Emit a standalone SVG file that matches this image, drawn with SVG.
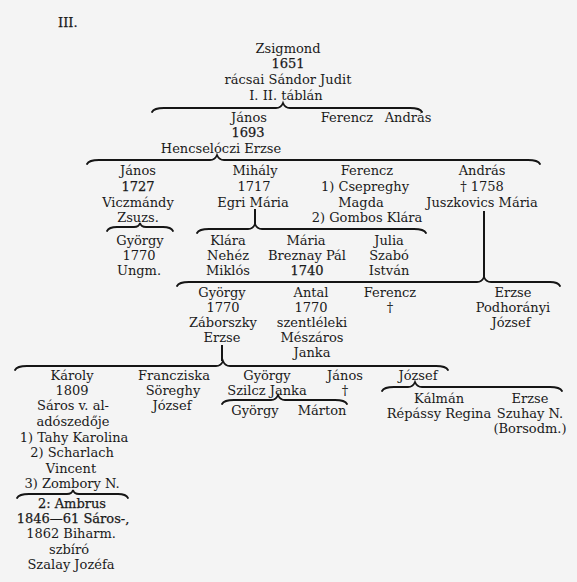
<svg xmlns="http://www.w3.org/2000/svg" width="577" height="582" viewBox="0 0 577 582">
<style>
text{font-family:"DejaVu Serif","Liberation Serif",serif;font-size:13px;fill:#1a1a1a;text-anchor:middle}
.b{stroke:#1a1a1a;stroke-width:0.25}
.l{text-anchor:start}
.br{fill:none;stroke:#151515;stroke-width:1.8;stroke-linecap:round}
.v{fill:none;stroke:#151515;stroke-width:2}
</style>
<rect width="577" height="582" fill="#f4f4f4"/>
<text class="l b" x="58" y="27">III.</text>
<g id="connectors">
<path class="br" d="M152,112 Q154,108 164,108 L276,108 Q281,108 283,103 Q285,108 290,108 L410,108 Q420,108 422,112"/>
<path class="br" d="M87,164 Q89,160 99,160 L210,160 Q215,160 217,155 Q219,160 224,160 L528,160 Q538,160 540,164"/>
<path class="br" d="M107,231 Q109,227 117,227 L134,227 Q139,227 140,223 Q141,227 146,227 L163,227 Q171,227 173,231"/>
<path class="br" d="M197,233 Q199,229 209,229 L248,229 Q253,229 255,224 Q257,229 262,229 L414,229 Q424,229 426,233"/>
<path class="v" d="M255,209 L255,224"/>
<path class="br" d="M177,286 Q179,282 189,282 L477,282 Q482,282 484,277 Q486,282 491,282 L550,282 Q558,282 560,286"/>
<path class="v" d="M484,211 L484,277"/>
<path class="br" d="M15,370 Q17,366 27,366 L216,366 Q221,366 223,361 Q225,366 230,366 L436,366 Q446,366 448,370"/>
<path class="v" d="M222,345 L222,361"/>
<path class="br" d="M222,404 Q224,400 234,400 L271,400 Q276,400 278,395 Q280,400 285,400 L335,400 Q345,400 347,404"/>
<path class="br" d="M382,391 Q384,387 394,387 L408,387 Q413,387 415,382 Q417,387 422,387 L550,387 Q560,387 562,391"/>
<path class="br" d="M17,498 Q19,494 29,494 L67,494 Q72,494 73,490 Q74,494 79,494 L118,494 Q126,494 128,498"/>
</g>
<g id="zsigmond">
<text x="288" y="53">Zsigmond</text>
<text x="288" y="68" class="b">1651</text>
<text x="288" y="84">rácsai Sándor Judit</text>
<text x="286" y="100">I. II. táblán</text>
</g>
<g id="janos-1693">
<text x="249" y="122">János</text>
<text x="248" y="137" class="b">1693</text>
<text x="221" y="153">Hencselóczi Erzse</text>
</g>
<g id="ferencz-1"><text x="347" y="122">Ferencz</text></g>
<g id="andras-1"><text x="408" y="122">András</text></g>
<g id="janos-1727">
<text x="138" y="175">János</text>
<text x="138" y="191" class="b">1727</text>
<text x="138" y="207">Viczmándy</text>
<text x="138" y="222">Zsuzs.</text>
</g>
<g id="mihaly">
<text x="255" y="175">Mihály</text>
<text x="254" y="191">1717</text>
<text x="253" y="207">Egri Mária</text>
</g>
<g id="ferencz-2">
<text x="367" y="175">Ferencz</text>
<text x="365" y="191">1) Csepreghy</text>
<text x="361" y="207">Magda</text>
<text x="367" y="222">2) Gombos Klára</text>
</g>
<g id="andras-2">
<text x="482" y="175">András</text>
<text x="482" y="191">† 1758</text>
<text x="482" y="207">Juszkovics Mária</text>
</g>
<g id="gyorgy-1770a">
<text x="140" y="245">György</text>
<text x="139" y="260">1770</text>
<text x="139" y="275">Ungm.</text>
</g>
<g id="klara">
<text x="228" y="245">Klára</text>
<text x="228" y="260">Nehéz</text>
<text x="228" y="275">Miklós</text>
</g>
<g id="maria">
<text x="306" y="245">Mária</text>
<text x="307" y="260">Breznay Pál</text>
<text x="307" y="275" class="b">1740</text>
</g>
<g id="julia">
<text x="389" y="245">Julia</text>
<text x="389" y="260">Szabó</text>
<text x="389" y="275">István</text>
</g>
<g id="gyorgy-1770b">
<text x="222" y="297">György</text>
<text x="223" y="312">1770</text>
<text x="223" y="327">Záborszky</text>
<text x="222" y="342">Erzse</text>
</g>
<g id="antal">
<text x="311" y="297">Antal</text>
<text x="311" y="312">1770</text>
<text x="312" y="327">szentléleki</text>
<text x="312" y="342">Mészáros</text>
<text x="312" y="357">Janka</text>
</g>
<g id="ferencz-3">
<text x="390" y="297">Ferencz</text>
<text x="390" y="312">†</text>
</g>
<g id="erzse-1">
<text x="513" y="297">Erzse</text>
<text x="513" y="312">Podhorányi</text>
<text x="511" y="327">József</text>
</g>
<g id="karoly">
<text x="72" y="380">Károly</text>
<text x="72" y="395">1809</text>
<text x="73" y="410">Sáros v. al-</text>
<text x="73" y="426">adószedője</text>
<text x="74" y="442">1) Tahy Karolina</text>
<text x="72" y="457">2) Scharlach</text>
<text x="71" y="473">Vincent</text>
<text x="72" y="488">3) Zombory N.</text>
</g>
<g id="francziska">
<text x="174" y="380">Francziska</text>
<text x="173" y="395">Söreghy</text>
<text x="172" y="410">József</text>
</g>
<g id="gyorgy-szilcz">
<text x="267" y="380">György</text>
<text x="267" y="395">Szilcz Janka</text>
</g>
<g id="janos-3">
<text x="345" y="380">János</text>
<text x="345" y="395">†</text>
</g>
<g id="jozsef"><text x="418" y="380">József</text></g>
<g id="gyorgy-4"><text x="255" y="415">György</text></g>
<g id="marton"><text x="322" y="415">Márton</text></g>
<g id="kalman">
<text x="439" y="403">Kálmán</text>
<text x="439" y="418">Répássy Regina</text>
</g>
<g id="erzse-2">
<text x="530" y="403">Erzse</text>
<text x="530" y="418">Szuhay N.</text>
<text x="530" y="433">(Borsodm.)</text>
</g>
<g id="ambrus">
<text x="72" y="508" class="b">2: Ambrus</text>
<text x="73" y="523" class="b">1846—61 Sáros-,</text>
<text x="71" y="538">1862 Biharm.</text>
<text x="69" y="554">szbíró</text>
<text x="71" y="569">Szalay Jozéfa</text>
</g>
</svg>
